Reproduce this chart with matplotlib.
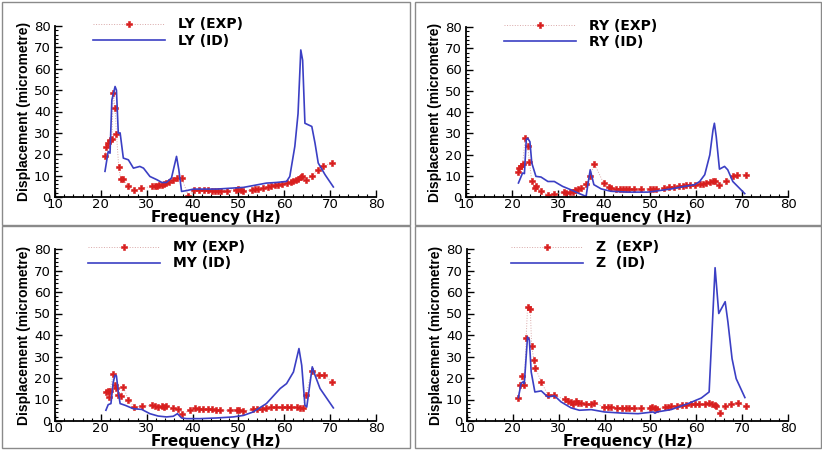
import matplotlib.pyplot as plt
from matplotlib.ticker import MultipleLocator
from matplotlib.patches import Rectangle

# ---- data (frequency in Hz, displacement in micrometre) ----
ly_exp_f = [20.9, 21.2, 21.6, 22.0, 22.4, 22.7, 23.1, 23.4, 23.9, 24.3, 24.8, 25.9, 27.3, 28.7,
            31.1, 31.7, 32.2, 32.7, 33.3, 33.8, 34.3, 34.9, 35.8, 36.5, 37.6, 39.1,
            40.4, 41.3, 42.5, 43.4, 44.2, 44.9, 45.6, 46.3, 47.6, 49.4, 50.0, 50.6, 51.1,
            52.9, 53.6, 54.3, 55.4, 56.5, 57.2, 58.0, 58.7, 59.4, 60.5, 61.4, 62.0, 62.5,
            63.0, 63.6, 63.9, 64.7, 66.0, 67.4, 68.4, 70.3]
ly_exp_d = [19.3, 23.2, 25.2, 26.8, 27.0, 48.6, 41.5, 29.6, 14.0, 8.6, 8.6, 5.0, 3.1, 4.0,
            5.0, 5.0, 5.3, 5.5, 5.8, 6.1, 6.5, 6.8, 8.1, 8.9, 8.9, 0.6,
            3.1, 3.1, 3.4, 3.1, 3.0, 2.8, 2.6, 2.6, 3.0, 3.4, 3.7, 3.1, 2.6,
            3.4, 3.7, 3.7, 4.2, 4.7, 5.0, 5.4, 5.8, 6.1, 6.5, 7.2, 7.6, 8.1,
            8.6, 9.2, 9.7, 8.1, 9.7, 12.8, 14.3, 15.9]
ly_id_f = [20.9, 21.6, 22.0, 22.4, 23.1, 23.4, 23.8, 24.2, 24.9, 26.0, 27.1, 28.5, 29.3, 30.7,
           32.2, 33.3, 34.3, 35.4, 36.5, 37.0, 37.6, 38.7, 40.2, 45.2, 48.9, 51.1, 56.1,
           58.3, 60.5, 61.2, 62.3, 63.0, 63.6, 64.0, 64.5, 66.0, 66.7, 67.4, 68.9, 70.7]
ly_id_d = [12.0, 21.3, 20.5, 45.4, 51.7, 50.0, 29.9, 30.0, 18.2, 17.4, 13.5, 14.3, 13.5, 9.6,
           8.1, 6.8, 6.8, 8.9, 19.0, 12.8, 2.6, 3.0, 3.7, 3.7, 4.2, 4.5, 6.5,
           6.8, 7.3, 9.6, 23.7, 39.0, 68.8, 64.0, 34.5, 33.0, 25.2, 15.9, 10.4, 4.7]

ry_exp_f = [21.2, 21.6, 22.0, 22.3, 22.9, 23.4, 23.8, 24.3, 24.9, 25.2, 26.3, 27.8, 29.1,
            31.2, 31.8, 32.5, 33.2, 33.8, 34.3, 35.0, 36.1, 37.0, 37.9, 39.9, 41.0, 41.5,
            42.6, 43.4, 44.1, 44.8, 45.5, 46.5, 48.1, 49.9, 50.6, 51.3, 53.1, 54.2, 55.3,
            56.4, 57.1, 57.9, 58.8, 59.7, 60.8, 61.5, 62.2, 63.0, 63.7, 64.2, 65.1, 66.6,
            68.0, 69.0, 70.9]
ry_exp_d = [11.6, 13.6, 14.8, 15.6, 28.0, 23.8, 16.4, 7.3, 4.2, 5.3, 3.0, 1.1, 1.4,
            2.2, 1.9, 2.2, 2.2, 3.4, 3.8, 4.2, 6.3, 9.7, 15.6, 6.6, 4.7, 4.2,
            3.8, 3.9, 3.9, 3.9, 3.9, 3.9, 3.8, 3.8, 3.9, 3.8, 4.2, 4.5, 4.5,
            5.0, 5.3, 5.5, 5.8, 5.8, 6.1, 6.3, 6.6, 6.9, 7.3, 7.3, 5.8, 7.3,
            9.7, 10.5, 10.5]
ry_id_f = [21.4, 22.3, 22.7, 23.1, 23.4, 23.9, 24.3, 25.2, 26.3, 27.8, 29.2, 31.0, 32.8,
           34.3, 36.1, 37.0, 37.8, 39.4, 41.5, 45.2, 49.5, 51.0, 54.6, 57.5, 59.7, 60.8,
           61.9, 63.0, 63.7, 64.0, 64.4, 65.1, 66.2, 66.9, 68.0, 70.6]
ry_id_d = [6.6, 11.3, 11.0, 26.9, 27.7, 26.0, 16.0, 9.7, 9.4, 7.3, 7.3, 5.0, 3.4,
           1.9, 0.3, 12.8, 5.8, 3.8, 2.7, 2.3, 2.3, 2.7, 3.8, 5.0, 5.8, 7.3,
           10.5, 19.8, 31.6, 34.7, 28.4, 13.1, 14.4, 12.8, 7.3, 1.6]

my_exp_f = [21.1, 21.5, 21.8, 22.0, 22.7, 23.1, 23.4, 23.8, 24.3, 24.9, 26.0, 27.3, 28.9,
            31.1, 31.8, 32.5, 33.3, 33.8, 34.3, 35.8, 36.9, 37.8, 39.4, 40.5, 41.4, 42.3,
            43.4, 44.3, 45.2, 46.0, 48.2, 49.6, 50.2, 51.1, 53.2, 54.0, 55.1, 56.1, 57.2,
            58.3, 59.4, 60.5, 61.4, 62.7, 63.4, 64.1, 64.7, 66.0, 67.6, 68.6, 70.5]
my_exp_d = [13.5, 14.0, 11.2, 14.0, 22.0, 16.6, 15.5, 12.0, 11.6, 15.8, 9.9, 6.5, 6.8,
            7.3, 6.8, 6.5, 6.8, 6.5, 6.8, 6.2, 5.7, 3.4, 5.0, 6.1, 5.7, 5.7,
            5.4, 5.4, 5.3, 5.0, 5.0, 5.3, 5.3, 4.7, 5.4, 5.7, 5.7, 6.1, 6.4,
            6.5, 6.5, 6.5, 6.5, 6.4, 6.2, 6.1, 12.0, 23.1, 21.6, 21.3, 18.2]
my_id_f = [21.1, 21.6, 22.2, 22.7, 23.1, 23.4, 23.8, 24.2, 25.3, 27.1, 28.9, 30.7, 32.5,
           34.3, 35.8, 36.7, 37.6, 38.7, 41.6, 45.2, 48.9, 51.1, 53.2, 56.1, 59.1, 60.5,
           62.0, 63.2, 63.8, 64.5, 64.9, 66.1, 66.7, 67.8, 70.7]
my_id_d = [5.0, 7.6, 8.1, 18.2, 21.3, 21.0, 13.5, 8.1, 7.3, 5.7, 5.4, 3.4, 2.3,
           1.9, 2.2, 3.4, 1.4, 1.1, 1.1, 1.4, 1.9, 2.6, 4.2, 8.1, 15.1, 17.4,
           22.8, 33.7, 25.9, 7.3, 6.5, 25.2, 21.3, 15.1, 6.1]

z_exp_f = [21.2, 21.6, 22.0, 22.5, 22.9, 23.2, 23.8, 24.1, 24.6, 24.9, 26.2, 27.6, 28.9,
           31.3, 32.1, 32.7, 33.1, 33.7, 34.2, 34.9, 36.0, 37.1, 37.8, 39.8, 40.7, 41.4,
           42.8, 43.8, 44.7, 45.4, 46.5, 48.0, 49.8, 50.3, 51.1, 51.5, 53.1, 53.8, 54.5,
           55.8, 56.9, 57.8, 58.9, 59.8, 60.7, 61.8, 62.8, 63.5, 64.0, 64.4, 65.1, 66.3,
           67.6, 69.0, 70.8]
z_exp_d = [10.7, 16.6, 20.8, 16.6, 38.7, 52.8, 52.3, 35.0, 28.3, 24.7, 18.2, 12.3, 12.0,
           10.1, 9.3, 8.9, 8.1, 9.2, 8.4, 8.4, 7.8, 7.8, 8.4, 6.5, 6.5, 6.5,
           6.2, 6.1, 6.1, 5.9, 5.9, 6.1, 6.2, 6.5, 6.2, 5.7, 6.5, 6.5, 6.8,
           6.8, 7.3, 7.6, 7.8, 7.8, 7.9, 7.9, 8.4, 8.1, 7.3, 6.8, 3.9, 7.0,
           8.1, 8.4, 6.8]
z_id_f = [21.2, 21.8, 22.2, 22.5, 23.2, 23.6, 24.0, 24.8, 26.2, 27.6, 29.1, 30.5, 32.7,
          34.5, 37.1, 40.0, 43.6, 47.3, 50.6, 51.0, 51.4, 54.5, 58.2, 61.1, 62.8, 63.5,
          64.1, 64.9, 66.3, 66.9, 67.8, 68.7, 70.6]
z_id_d = [10.9, 17.4, 18.2, 17.4, 39.1, 37.6, 22.8, 13.5, 14.0, 11.2, 11.7, 8.9, 6.1,
          5.0, 5.3, 4.2, 3.7, 3.4, 4.2, 3.6, 4.2, 5.3, 8.1, 10.7, 13.5, 44.6,
          71.3, 50.0, 55.5, 46.0, 29.0, 19.7, 10.9]

panels = [
    ("LY", ly_exp_f, ly_exp_d, ly_id_f, ly_id_d),
    ("RY", ry_exp_f, ry_exp_d, ry_id_f, ry_id_d),
    ("MY", my_exp_f, my_exp_d, my_id_f, my_id_d),
    ("Z ", z_exp_f, z_exp_d, z_id_f, z_id_d),
]

W, H = 822, 450
# axes boxes in pixels: left, top, right, bottom
boxes = [(55, 26, 376, 197), (466, 27, 788, 197), (55, 249, 376, 421), (467, 249, 788, 421)]
legend_x = [0.118, 0.118, 0.103, 0.137]
frames = [(2, 2, 410, 225), (415, 2, 821, 225), (2, 226, 410, 448), (415, 226, 821, 448)]

fig = plt.figure(figsize=(W / 100, H / 100), dpi=100)

for (l, t, r, b) in frames:
    fig.add_artist(Rectangle((l / W, 1 - b / H), (r - l) / W, (b - t) / H,
                             transform=fig.transFigure, fill=False,
                             edgecolor="#8a8a8a", linewidth=1.0))

for i, (name, ef, ed, idf, idd) in enumerate(panels):
    l, t, r, b = boxes[i]
    ax = fig.add_axes([l / W, 1 - b / H, (r - l) / W, (b - t) / H])
    ax.plot(ef, ed, linestyle=":", color="#d9a8a8", linewidth=0.7,
            marker="P", markersize=5, markerfacecolor="#d81e1e",
            markeredgecolor="#d81e1e", markeredgewidth=0.4, label=name + " (EXP)")
    ax.plot(idf, idd, color="#3b3fc4", linewidth=1.2, label=name + " (ID)")

    ax.set_xlim(10, 80)
    ax.set_ylim(0, 80)
    ax.xaxis.set_major_locator(MultipleLocator(10))
    ax.yaxis.set_major_locator(MultipleLocator(10))
    ax.xaxis.set_minor_locator(MultipleLocator(2))
    ax.yaxis.set_minor_locator(MultipleLocator(2))
    ax.tick_params(which="major", direction="in", length=5, width=1, labelsize=9.5,
                   colors="black")
    ax.tick_params(which="minor", direction="in", length=2.5, width=0.8)
    ax.tick_params(axis="x", pad=1)
    ax.tick_params(axis="y", pad=3)
    for s in ["top", "right"]:
        ax.spines[s].set_visible(False)
    for s in ["left", "bottom"]:
        ax.spines[s].set_linewidth(1.3)

    ax.set_xlabel("Frequency (Hz)", fontsize=11, fontweight="bold", labelpad=-1)
    ax.set_ylabel("Displacement (micrometre)", fontsize=10, fontweight="bold",
                  family="Liberation Sans", labelpad=2)

    ax.legend(loc="upper left", bbox_to_anchor=(legend_x[i], 1.05), frameon=False,
              borderpad=0, borderaxespad=0, numpoints=1, handlelength=5.2,
              handletextpad=0.9, labelspacing=0.15,
              prop={"weight": "bold", "size": 10})

fig.savefig("out.png", dpi=100)
